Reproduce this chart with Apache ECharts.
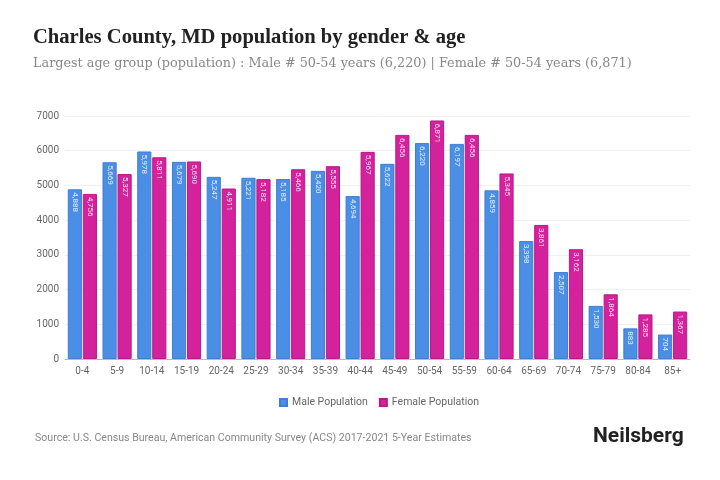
<!DOCTYPE html>
<html>
<head>
<meta charset="utf-8">
<script src="https://cdn.jsdelivr.net/npm/echarts@6/dist/echarts.min.js"></script>
<style>
html,body{margin:0;padding:0;background:#fff;}
#c{width:720px;height:480px;}
</style>
</head>
<body>
<div id="c"></div>
<script>
const categories = ["0-4","5-9","10-14","15-19","20-24","25-29","30-34","35-39","40-44","45-49","50-54","55-59","60-64","65-69","70-74","75-79","80-84","85+"];
const malePopulation = [4888,5669,5978,5679,5247,5221,5185,5420,4694,5622,6220,6197,4859,3398,2507,1530,883,704];
const femalePopulation = [4756,5327,5811,5690,4911,5182,5466,5555,5967,6456,6871,6456,5345,3861,3162,1864,1285,1367];
const yTicks = [0,1000,2000,3000,4000,5000,6000,7000];

const chart = echarts.init(document.getElementById('c'));
const lbl = {
  show: true,
  position: 'insideTop',
  rotate: -90,
  align: 'left',
  verticalAlign: 'middle',
  distance: 3,
  color: 'rgba(255,255,255,0.85)',
  fontSize: 8,
  fontFamily: 'Roboto',
  formatter: p => p.value.toLocaleString('en-US')
};
chart.setOption({
  animation: false,
  backgroundColor: '#fff',
  title: [
    {text: 'Charles County, MD population by gender & age', left: 33, top: 27, padding: 0,
     textStyle: {fontFamily: 'Liberation Serif', fontWeight: 'bold', fontSize: 20.6, color: '#222'}},
    {text: 'Largest age group (population) : Male # 50-54 years (6,220) | Female # 50-54 years (6,871)', left: 33, top: 57, padding: 0,
     textStyle: {fontFamily: 'DejaVu Serif', fontWeight: 'normal', fontSize: 12.8, color: '#888'}},
    {text: 'Source: U.S. Census Bureau, American Community Survey (ACS) 2017-2021 5-Year Estimates', left: 35, top: 433, padding: 0,
     textStyle: {fontFamily: 'Roboto', fontWeight: 'normal', fontSize: 10.6, color: '#888'}},
    {text: 'Neilsberg', left: 593, top: 426, padding: 0,
     textStyle: {fontFamily: 'Roboto', fontWeight: 'bold', fontSize: 21, color: '#222'}}
  ],
  legend: {
    data: ['Male Population','Female Population'],
    top: 392, left: 274,
    itemWidth: 7, itemHeight: 7, itemGap: 11,
    icon: 'rect',
    textStyle: {fontFamily: 'Roboto', fontSize: 10.5, color: '#666'}
  },
  grid: {left: 65, right: 30, top: 116, bottom: 121},
  xAxis: {
    type: 'category',
    data: categories,
    axisTick: {show: false},
    axisLine: {lineStyle: {color: '#bbb'}},
    axisLabel: {fontFamily: 'Roboto', fontSize: 10, color: '#666', interval: 0, margin: 7}
  },
  yAxis: {
    type: 'value',
    min: 0, max: 7000, interval: 1000,
    axisLabel: {fontFamily: 'Roboto', fontSize: 10, color: '#666', margin: 6,
      formatter: v => yTicks.includes(v) ? String(v) : ''},
    splitLine: {lineStyle: {color: '#f0f0f0'}}
  },
  series: [
    {name: 'Male Population', type: 'bar', data: malePopulation,
     barGap: '6%', barCategoryGap: '16%',
     itemStyle: {color: '#4a8ee6', borderColor: '#3f7fd2', borderWidth: 1},
     label: lbl},
    {name: 'Female Population', type: 'bar', data: femalePopulation,
     itemStyle: {color: '#d4219c', borderColor: '#b81a86', borderWidth: 1},
     label: lbl}
  ]
});
</script>
</body>
</html>
